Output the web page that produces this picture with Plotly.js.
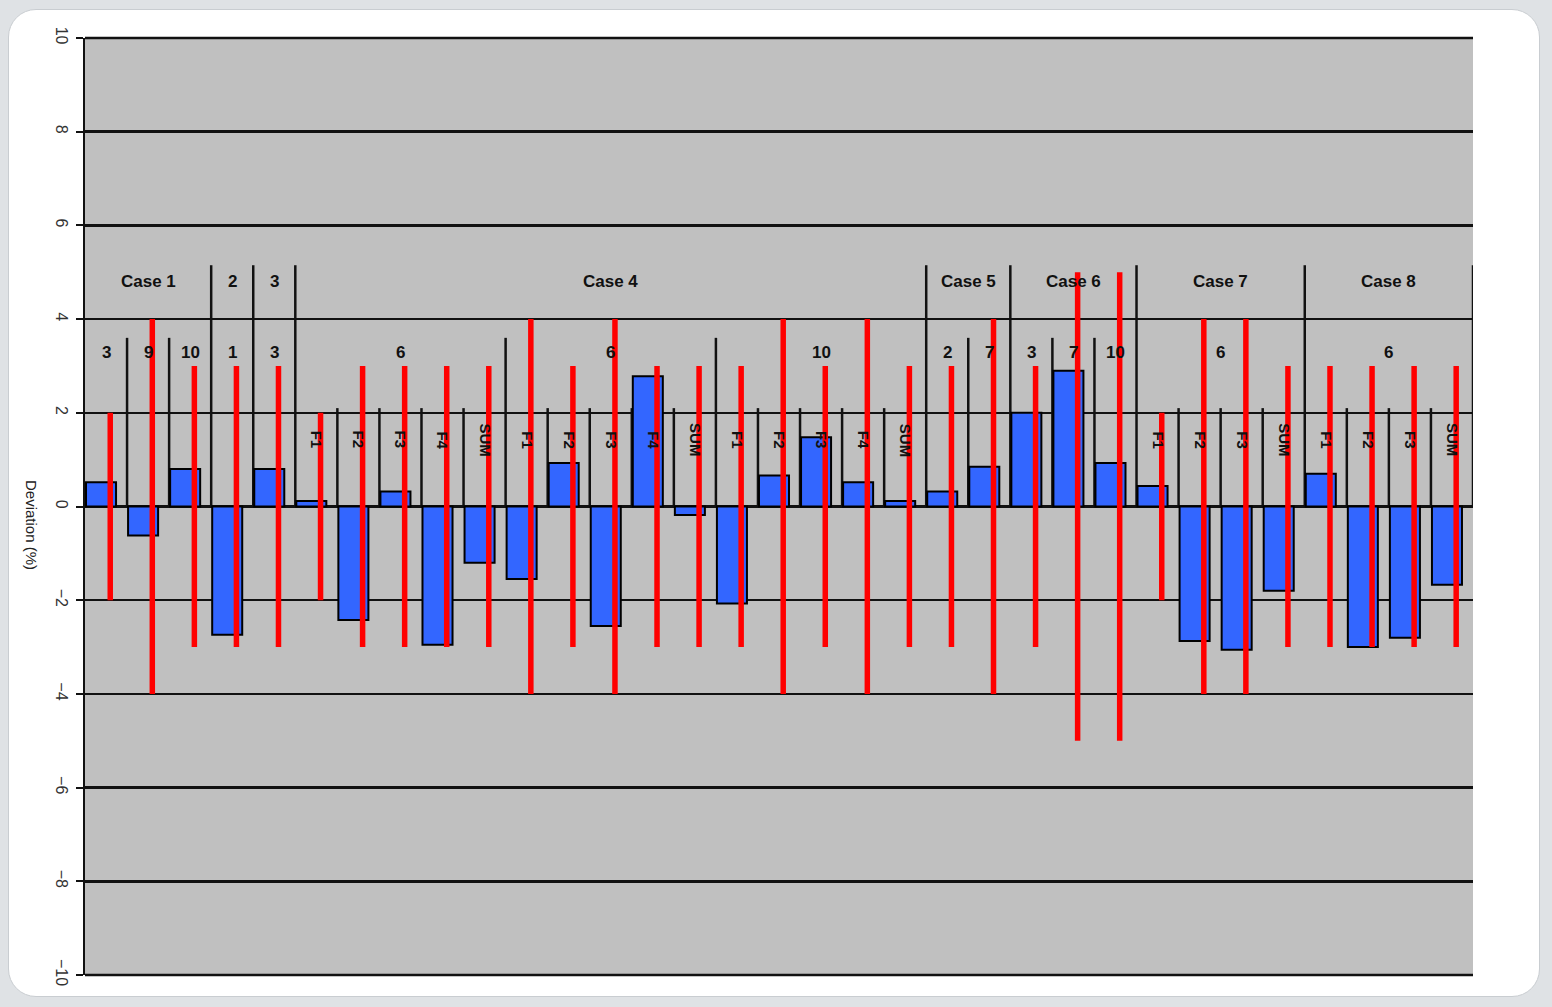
<!DOCTYPE html>
<html>
<head>
<meta charset="utf-8">
<script src="https://cdn.plot.ly/plotly-3.0.1.min.js"></script>
<style>
  html, body { margin: 0; padding: 0; width: 1552px; height: 1007px; background: #dfe2e5; overflow: hidden; }
  #card { position: absolute; left: 8px; top: 9px; width: 1530px; height: 986px; background: #ffffff;
          border: 1px solid #c9cdd1; border-radius: 28px; }
  #chart { position: absolute; left: 0; top: 0; width: 1552px; height: 1007px; }
</style>
</head>
<body>
<div id="card"></div>
<div id="chart"></div>
<script>
// ---- data ----
const caseLabels = ['Case 1', '2', '3', 'Case 4', 'Case 5', 'Case 6', 'Case 7', 'Case 8'];
const caseSizes  = [3, 1, 1, 15, 2, 3, 4, 4];
const subLabels  = ['3', '9', '10', '1', '3', '6', '6', '10', '2', '7', '3', '7', '10', '6', '6'];
const subSizes   = [1, 1, 1, 1, 1, 5, 5, 5, 1, 1, 1, 1, 1, 4, 4];
const itemLabels = ['', '', '', '', '',
  'F1', 'F2', 'F3', 'F4', 'SUM',
  'F1', 'F2', 'F3', 'F4', 'SUM',
  'F1', 'F2', 'F3', 'F4', 'SUM',
  '', '', '', '', '',
  'F1', 'F2', 'F3', 'SUM',
  'F1', 'F2', 'F3', 'SUM'];
const deviation = [0.52, -0.62, 0.8, -2.74, 0.8,
  0.12, -2.42, 0.32, -2.95, -1.2,
  -1.55, 0.93, -2.55, 2.78, -0.18,
  -2.07, 0.66, 1.48, 0.52, 0.12,
  0.32, 0.85, 2.0, 2.9, 0.93,
  0.44, -2.87, -3.06, -1.8,
  0.7, -3.0, -2.8, -1.67];
const tolerance = [2, 4, 3, 3, 3,
  2, 3, 3, 3, 3,
  4, 3, 4, 3, 3,
  3, 4, 3, 4, 3,
  3, 4, 3, 5, 5,
  2, 4, 4, 3,
  3, 3, 3, 3];

// ---- build ----
const n = deviation.length;
const idx = deviation.map((_, i) => i);
const redX = idx.map(i => i + 0.1);

const traces = [
  {
    type: 'bar', x: idx, y: deviation,
    width: 0.714, offset: -0.476,
    marker: { color: '#3366ff', line: { color: '#000000', width: 2 } },
    hoverinfo: 'y'
  },
  {
    type: 'scatter', mode: 'markers', x: redX, y: idx.map(() => 0),
    marker: { size: 1, color: 'rgba(0,0,0,0)' },
    error_y: { type: 'data', array: tolerance, symmetric: true, visible: true,
               color: '#ff0000', thickness: 5.5, width: 0 },
    hoverinfo: 'skip'
  }
];

const shapes = [];
const annotations = [];
const lblFont = { family: 'Liberation Sans, Arial, sans-serif', size: 17, color: '#111111' };

// top and bottom border gridlines
[0, 1].forEach(yy => shapes.push({ type: 'line', xref: 'paper', yref: 'paper', x0: 0, x1: 1, y0: yy, y1: yy,
  line: { color: '#111111', width: 2.5 }, layer: 'between' }));

function vline(k, top) {
  shapes.push({ type: 'line', xref: 'x', yref: 'y', x0: k - 0.5, x1: k - 0.5, y0: 0, y1: top,
                line: { color: '#111111', width: 2.5 }, layer: 'between' });
}

// level 3 (cases)
let pos = 0;
const caseBounds = new Set();
caseLabels.forEach((lab, j) => {
  const s = caseSizes[j];
  annotations.push({ xref: 'x', yref: 'y', x: pos + (s - 1) / 2, y: 4.8, text: '<b>' + lab + '</b>',
                     showarrow: false, font: lblFont });
  pos += s;
  caseBounds.add(pos);
  vline(pos, 5.15);
});

// level 2
pos = 0;
const subBounds = new Set();
subLabels.forEach((lab, j) => {
  const s = subSizes[j];
  annotations.push({ xref: 'x', yref: 'y', x: pos + (s - 1) / 2, y: 3.28, text: '<b>' + lab + '</b>',
                     showarrow: false, font: lblFont });
  pos += s;
  subBounds.add(pos);
  if (!caseBounds.has(pos)) vline(pos, 3.6);
});

// level 1
itemLabels.forEach((lab, i) => {
  if (!lab) return;
  annotations.push({ xref: 'x', yref: 'y', x: i, y: 1.42, text: '<b>' + lab + '</b>', textangle: 90,
                     showarrow: false, font: { family: 'Liberation Sans, Arial, sans-serif', size: 15, color: '#111111' } });
  const k = i + 1;
  if (!subBounds.has(k) && !caseBounds.has(k)) vline(k, 2.1);
});

// y axis title (reads top to bottom)
annotations.push({ xref: 'paper', yref: 'paper', x: -0.038, y: 0.48, xanchor: 'center', yanchor: 'middle',
                   text: 'Deviation (%)', textangle: 90, showarrow: false,
                   font: { family: 'Liberation Sans, Arial, sans-serif', size: 15, color: '#222222' } });

const layout = {
  width: 1552, height: 1007,
  margin: { l: 85, r: 79, t: 38, b: 32 },
  paper_bgcolor: 'rgba(0,0,0,0)',
  plot_bgcolor: '#c0c0c0',
  showlegend: false,
  bargap: 0,
  xaxis: { range: [-0.5, n - 0.5], showgrid: false, zeroline: false, showticklabels: false,
           ticks: '', showline: false, fixedrange: true },
  yaxis: { range: [-10, 10], dtick: 2, tick0: 0, showgrid: true, gridcolor: '#111111', gridwidth: 2.5,
           zeroline: true, zerolinecolor: '#111111', zerolinewidth: 2.5,
           showline: true, linecolor: '#111111', linewidth: 2.5,
           ticks: 'outside', ticklen: 7, tickwidth: 2, tickcolor: '#111111',
           tickangle: 90, tickfont: { family: 'Liberation Sans, Arial, sans-serif', size: 16, color: '#333333' },
           fixedrange: true },
  shapes: shapes,
  annotations: annotations
};

Plotly.newPlot('chart', traces, layout, { displayModeBar: false, staticPlot: true });
</script>
</body>
</html>
